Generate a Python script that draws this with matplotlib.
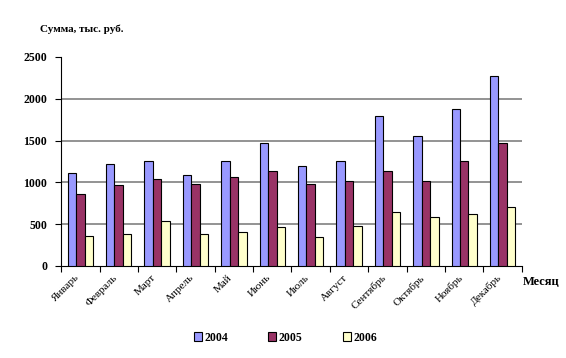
import matplotlib.pyplot as plt
import matplotlib.transforms as mtransforms
import numpy as np

months = ['Январь', 'Февраль', 'Март', 'Апрель', 'Май', 'Июнь',
          'Июль', 'Август', 'Сентябрь', 'Октябрь', 'Ноябрь', 'Декабрь']
years = ['2004', '2005', '2006']
sales_2004 = [1110, 1215, 1250, 1085, 1250, 1470, 1190, 1260, 1790, 1560, 1880, 2270]
sales_2005 = [860, 965, 1045, 975, 1070, 1140, 975, 1015, 1140, 1015, 1250, 1475]
sales_2006 = [360, 380, 540, 380, 410, 465, 350, 475, 645, 585, 620, 705]
colors = ['#9999FF', '#993366', '#FFFFCC']

plt.rcParams['font.family'] = ['Liberation Serif', 'DejaVu Serif']

fig = plt.figure(figsize=(5.66, 3.58), dpi=100)
ax = fig.add_axes([0.108, 0.257, 0.814, 0.584])

x = np.arange(len(months))
w = 0.22
for i, (vals, c, lab) in enumerate(zip([sales_2004, sales_2005, sales_2006], colors, years)):
    ax.bar(x + (i - 1) * w, vals, width=w, color=c, edgecolor='black',
           linewidth=0.8, label=lab, zorder=3)

ax.set_xlim(-0.5, len(months) - 0.5)
ax.set_ylim(0, 2500)
ax.set_yticks([0, 500, 1000, 1500, 2000, 2500])
ax.tick_params(axis='y', labelsize=8.5, length=4, width=0.8, pad=6)
for t in ax.get_yticklabels():
    t.set_fontweight('bold')

ax.set_xticks(x)
ax.set_xticklabels(months, rotation=45, ha='right', rotation_mode='anchor', fontsize=8)
ax.tick_params(axis='x', length=0, pad=5)
# shift the month labels a bit to the left, as in the original
shift = mtransforms.ScaledTranslation(-6 / 100, 0, fig.dpi_scale_trans)
for t in ax.get_xticklabels():
    t.set_transform(t.get_transform() + shift)
ax.set_xticks(np.arange(-0.5, len(months)), minor=True)
ax.tick_params(axis='x', which='minor', length=4, width=0.8)

for v in [500, 1000, 1500, 2000]:
    ax.axhline(v, color='#808080', linewidth=1.2, zorder=1)

ax.spines['top'].set_visible(False)
ax.spines['right'].set_visible(False)
ax.spines['left'].set_linewidth(0.8)
ax.spines['bottom'].set_linewidth(0.8)

fig.text(0.071, 0.912, 'Сумма, тыс. руб.', fontsize=8, fontweight='bold')
fig.text(0.924, 0.203, 'Месяц', fontsize=9, fontweight='bold')

leg = fig.legend(loc='center', bbox_to_anchor=(0.504, 0.057), ncol=3, frameon=False,
                 fontsize=8.5, handlelength=0.7, handleheight=0.7, columnspacing=3.4,
                 handletextpad=0.2)
for t in leg.get_texts():
    t.set_fontweight('bold')

fig.savefig('out.png', dpi=100)
